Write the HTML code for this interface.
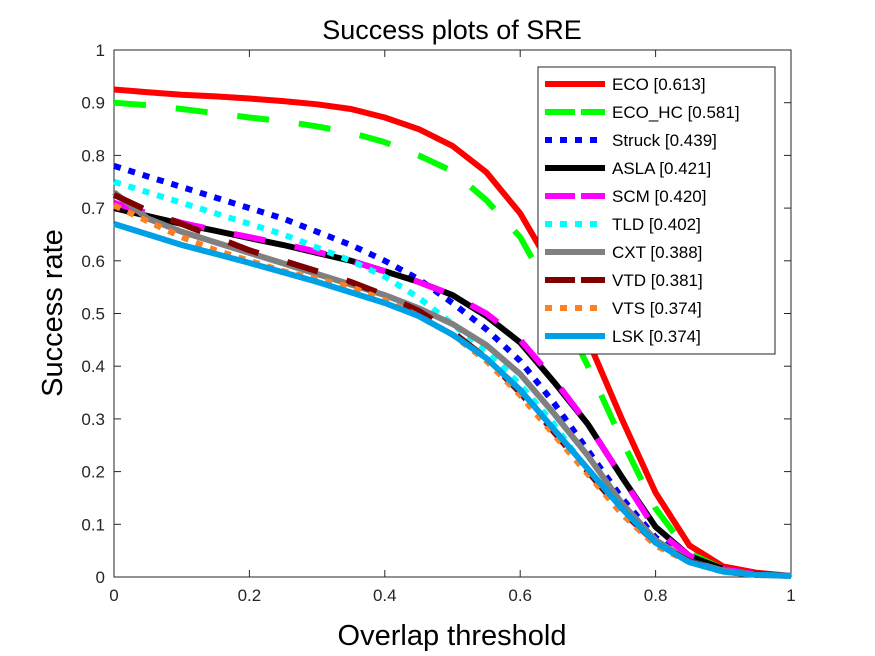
<!DOCTYPE html>
<html><head><meta charset="utf-8"><style>
body{margin:0;background:#fff;}
svg{font-family:"Liberation Sans",Arial,sans-serif;display:block}
</style></head><body>
<svg id="chart" width="875" height="656">
<rect width="875" height="656" fill="#fff"/>
<g id="axes"></g><g id="series"></g><g id="legend"></g>
</svg>
<script>
const thresholds=[0,0.05,0.1,0.15,0.2,0.25,0.3,0.35,0.4,0.45,0.5,0.55,0.6,0.65,0.7,0.75,0.8,0.85,0.9,0.95,1];
const names=["ECO [0.613]","ECO_HC [0.581]","Struck [0.439]","ASLA [0.421]","SCM [0.420]","TLD [0.402]","CXT [0.388]","VTD [0.381]","VTS [0.374]","LSK [0.374]"];
const ECO=[0.925,0.92,0.915,0.912,0.908,0.903,0.897,0.888,0.872,0.85,0.818,0.768,0.69,0.58,0.45,0.3,0.16,0.06,0.02,0.008,0.002];
const ECO_HC=[0.9,0.895,0.888,0.88,0.872,0.865,0.855,0.843,0.825,0.8,0.77,0.715,0.645,0.53,0.4,0.26,0.13,0.045,0.015,0.005,0.002];
const Struck=[0.78,0.76,0.74,0.72,0.7,0.68,0.655,0.63,0.6,0.565,0.52,0.47,0.41,0.33,0.24,0.15,0.075,0.035,0.015,0.005,0.002];
const ASLA=[0.7,0.685,0.67,0.657,0.643,0.63,0.615,0.6,0.58,0.56,0.535,0.495,0.445,0.37,0.29,0.19,0.095,0.04,0.015,0.005,0.002];
const SCM=[0.71,0.69,0.672,0.658,0.645,0.632,0.617,0.6,0.58,0.56,0.535,0.5,0.45,0.375,0.29,0.19,0.09,0.04,0.015,0.005,0.002];
const TLD=[0.75,0.73,0.71,0.69,0.67,0.65,0.625,0.6,0.57,0.53,0.48,0.43,0.365,0.29,0.2,0.12,0.06,0.03,0.01,0.004,0.002];
const CXT=[0.73,0.68,0.655,0.635,0.615,0.595,0.575,0.555,0.535,0.51,0.48,0.44,0.385,0.31,0.23,0.14,0.07,0.03,0.012,0.004,0.002];
const VTD=[0.725,0.695,0.67,0.645,0.62,0.6,0.58,0.56,0.535,0.505,0.465,0.415,0.35,0.275,0.2,0.125,0.065,0.03,0.01,0.004,0.002];
const VTS=[0.705,0.675,0.645,0.62,0.6,0.58,0.565,0.55,0.525,0.495,0.46,0.41,0.345,0.27,0.195,0.12,0.06,0.028,0.01,0.004,0.002];
const LSK=[0.67,0.65,0.63,0.613,0.596,0.578,0.56,0.54,0.52,0.495,0.46,0.415,0.355,0.28,0.205,0.13,0.065,0.028,0.01,0.004,0.002];
const xTicks=["0","0.2","0.4","0.6","0.8","1"];
const yTicks=["0","0.1","0.2","0.3","0.4","0.5","0.6","0.7","0.8","0.9","1"];

const NS="http://www.w3.org/2000/svg";
const X0=114,X1=791,Y0=577,Y1=50;
const sx=v=>X0+(X1-X0)*v, sy=v=>Y0-(Y0-Y1)*v;
function mk(tag,attrs,parent,text){const e=document.createElementNS(NS,tag);for(const k in attrs)e.setAttribute(k,attrs[k]);if(text!==undefined)e.textContent=text;parent.appendChild(e);return e;}
const axes=document.getElementById('axes'),ser=document.getElementById('series'),leg=document.getElementById('legend');

const title=mk('text',{x:452,y:39,'text-anchor':'middle','font-size':27},axes,'Success plots of SRE');


const xl=mk('text',{x:452,y:645,'text-anchor':'middle','font-size':29},axes,'Overlap threshold');


const yl=mk('text',{x:0,y:0,'text-anchor':'middle','font-size':29,transform:'translate(62,313) rotate(-90)'},axes,'Success rate');



const frame=mk('rect',{x:X0,y:Y1,width:X1-X0,height:Y0-Y1,fill:'none',stroke:'#262626','stroke-width':1},axes);


xTicks.forEach(t=>{const v=parseFloat(t),x=sx(v);
 mk('line',{x1:x,x2:x,y1:Y0,y2:Y0-7,stroke:'#262626'},axes);
 mk('line',{x1:x,x2:x,y1:Y1,y2:Y1+7,stroke:'#262626'},axes);
 const tl=mk('text',{x:x,y:Y0+24,'text-anchor':'middle','font-size':17,fill:'#262626'},axes,t);
 
 
});
yTicks.forEach(t=>{const v=parseFloat(t),y=sy(v);
 mk('line',{x1:X0,x2:X0+7,y1:y,y2:y,stroke:'#262626'},axes);
 mk('line',{x1:X1,x2:X1-7,y1:y,y2:y,stroke:'#262626'},axes);
 const tl=mk('text',{x:X0-9,y:y+6,'text-anchor':'end','font-size':17,fill:'#262626'},axes,t);
 
 
});

const data=[ECO,ECO_HC,Struck,ASLA,SCM,TLD,CXT,VTD,VTS,LSK];
const colors=['#ff0000','#00ff00','#0000ff','#000000','#ff00ff','#00ffff','#808080','#800000','#ff8020','#00a0e6'];
const dashes=['','32 30','7 8','','32 30','7 8','','32 30','7 8',''];
data.forEach((vals,i)=>{
 const d=vals.map((v,j)=>(j?'L':'M')+sx(thresholds[j]).toFixed(1)+','+sy(v).toFixed(1)).join('');
 const p=mk('path',{d:d,fill:'none',stroke:colors[i],'stroke-width':6,'stroke-dasharray':dashes[i]},ser);
 
 
});

const lb=mk('rect',{x:538,y:67,width:237,height:287,fill:'#fff',stroke:'#262626','stroke-width':1},leg);


names.forEach((n,i)=>{const y=84+i*28;
 const g=mk('g',{},leg);
 
 
 mk('line',{x1:545,x2:605,y1:y,y2:y,stroke:colors[i],'stroke-width':6,'stroke-dasharray':dashes[i]?(dashes[i]==='32 30'?'30 6':'7 8'):''},g);
 mk('text',{x:612,y:y+6,'font-size':17,fill:'#000'},g,n);
});
</script>
</body></html>
